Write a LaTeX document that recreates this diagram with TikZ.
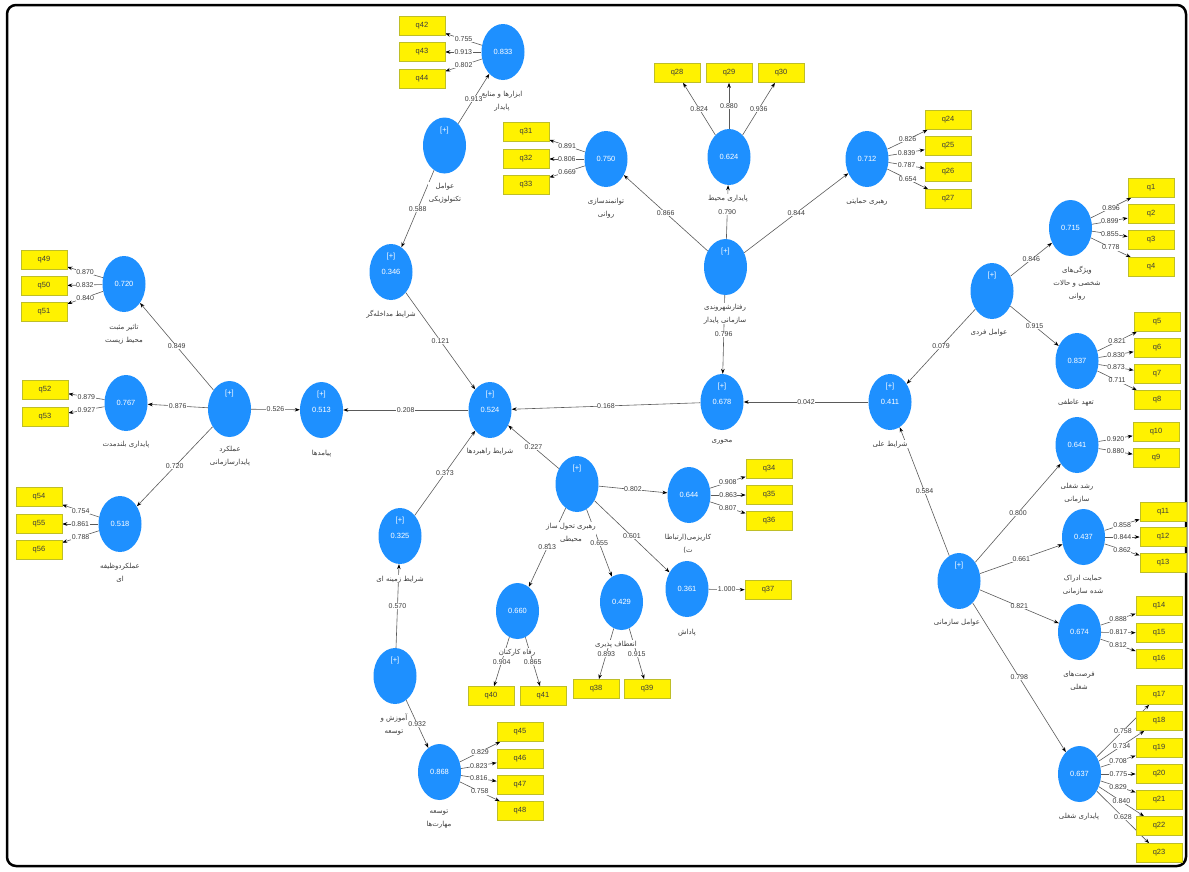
\documentclass[tikz,border=0pt]{standalone}
\usepackage{fontspec}
\setmainfont{Liberation Sans}
\newfontfamily\pfont[Script=Arabic]{DejaVu Sans}
\usetikzlibrary{shapes.geometric,arrows.meta,backgrounds}
\TeXXeTstate=1
\newcommand\RL[1]{\beginR#1\endR}
\definecolor{lvblue}{RGB}{30,144,255}
\definecolor{ybord}{RGB}{190,190,40}
\definecolor{txt}{RGB}{60,60,60}
\definecolor{lgrey}{RGB}{90,90,90}
\tikzset{
 lv/.style={ellipse, fill=lvblue, minimum width=43pt, minimum height=56pt, inner sep=0pt},
 lvt/.style={text=white, font=\fontsize{7.5}{9}\selectfont, inner sep=0pt},
 indbox/.style={rectangle, fill=yellow, draw=ybord, line width=0.6pt, minimum width=46pt, minimum height=19pt, inner sep=0pt, text=txt, font=\fontsize{7.5}{9}\selectfont},
 arr/.style={draw=lgrey, line width=0.6pt, -{Stealth[length=5pt,width=3.6pt,color=black]}},
 coef/.style={fill=white, inner sep=0.5pt, text=txt, font=\fontsize{7}{8}\selectfont},
 plab/.style={fill=white, inner sep=0.5pt, text=txt, align=center, anchor=north, font=\fontsize{7}{13}\pfont},
}
\newcommand\lv[5]{%
 \node[lv] (#1) at (#2,#3) {};
 \node[lvt] at ([yshift=15pt]#1.center) {#4};
 \node[lvt] at (#1.center) {#5};}
\newcommand\qb[3]{\node[indbox] (#1) at (#2,#3) {#1};}
\newcommand\lk[3]{%
 \begin{pgfonlayer}{background}
 \draw[arr] (#1) -- (#2) coordinate[pos=0.5] (lkm);
 \end{pgfonlayer}
 \node[coef] at (lkm) {#3};}
\begin{document}
\begin{tikzpicture}[x=1pt,y=-1pt]
\useasboundingbox (0,0) rectangle (1189,871);
\draw[line width=2.5pt, rounded corners=9pt] (7,5) rectangle (1186,866);
% latent variables
\lv{envA}{124}{284}{}{0.720}
\lv{lt}{126}{403}{}{0.767}
\lv{fn}{120}{524}{}{0.518}
\lv{op}{229.5}{409}{[+]}{}
\lv{out}{321.5}{410}{[+]}{0.513}
\lv{str}{490}{410}{[+]}{0.524}
\lv{int}{391}{272}{[+]}{0.346}
\lv{tech}{444.5}{145.5}{[+]}{}
\lv{tool}{503}{52}{}{0.833}
\lv{emp}{606}{159}{}{0.750}
\lv{es}{729}{157}{}{0.624}
\lv{sup}{867}{159}{}{0.712}
\lv{cit}{725.5}{267}{[+]}{}
\lv{ax}{722}{402}{[+]}{0.678}
\lv{cau}{890}{402}{[+]}{0.411}
\lv{fi}{992}{291}{[+]}{}
\lv{per}{1070.5}{228}{}{0.715}
\lv{aff}{1077}{361}{}{0.837}
\lv{car}{1077}{445}{}{0.641}
\lv{pas}{1083.5}{537}{}{0.437}
\lv{job}{1079.5}{632}{}{0.674}
\lv{js}{1079.5}{774}{}{0.637}
\lv{org}{959}{581}{[+]}{}
\lv{tr}{577}{484}{[+]}{}
\lv{cha}{689}{495}{}{0.644}
\lv{rew}{687}{589}{}{0.361}
\lv{alt}{621.5}{602}{}{0.429}
\lv{wel}{517.5}{611}{}{0.660}
\lv{ctx}{400}{536}{[+]}{0.325}
\lv{trn}{395}{676}{[+]}{}
\lv{sk}{439.5}{772}{}{0.868}
% indicators
\qb{q42}{422}{26}\qb{q43}{422}{52}\qb{q44}{422}{79}
\qb{q31}{526}{132}\qb{q32}{526}{159}\qb{q33}{526}{185}
\qb{q28}{677}{73}\qb{q29}{729}{73}\qb{q30}{781}{73}
\qb{q24}{948}{120}\qb{q25}{948}{146}\qb{q26}{948}{172}\qb{q27}{948}{199}
\qb{q1}{1151}{188}\qb{q2}{1151}{214}\qb{q3}{1151}{240}\qb{q4}{1151}{267}
\qb{q5}{1157}{322}\qb{q6}{1157}{348}\qb{q7}{1157}{374}\qb{q8}{1157}{400}
\qb{q10}{1156}{432}\qb{q9}{1156}{458}
\qb{q11}{1163}{512}\qb{q12}{1163}{537}\qb{q13}{1163}{563}
\qb{q14}{1159}{606}\qb{q15}{1159}{633}\qb{q16}{1159}{659}
\qb{q17}{1159}{695}\qb{q18}{1159}{721}\qb{q19}{1159}{748}\qb{q20}{1159}{774}
\qb{q21}{1159}{800}\qb{q22}{1159}{826}\qb{q23}{1159}{853}
\qb{q49}{44}{260}\qb{q50}{44}{286}\qb{q51}{44}{312}
\qb{q52}{45}{390}\qb{q53}{45}{417}
\qb{q54}{39}{497}\qb{q55}{39}{524}\qb{q56}{39}{550}
\qb{q34}{769}{469}\qb{q35}{769}{495}\qb{q36}{769}{521}
\qb{q37}{768}{590}
\qb{q40}{491}{696}\qb{q41}{543}{696}
\qb{q38}{596}{689}\qb{q39}{647}{689}
\qb{q45}{520}{732}\qb{q46}{520}{759}\qb{q47}{520}{785}\qb{q48}{520}{811}
% latent labels
\node[plab] (LenvA) at (124,323) {\RL{تاثیر مثبت}\\\RL{محیط زیست}};
\node[plab] (Llt) at (126,440) {\RL{پایداری بلندمدت}};
\node[plab] (Lfn) at (120,562) {\RL{عملکردوظیفه}\\\RL{ای}};
\node[plab] (Lop) at (230,445) {\RL{عملکرد}\\\RL{پایدارسازمانی}};
\node[plab] (Lout) at (321.5,449) {\RL{پیامدها}};
\node[plab] (Lstr) at (490,447) {\RL{شرایط راهبردها}};
\node[plab] (Lint) at (391,310) {\RL{شرایط مداخله‌گر}};
\node[plab] (Ltech) at (445,182) {\RL{عوامل}\\\RL{تکنولوژیکی}};
\node[plab] (Ltool) at (502,90) {\RL{ابزارها و منابع}\\\RL{پایدار}};
\node[plab] (Lemp) at (606,197) {\RL{توانمندسازی}\\\RL{روانی}};
\node[plab] (Les) at (728,194) {\RL{پایداری محیط}\\\RL{زیست}};
\node[plab] (Lsup) at (867,197) {\RL{رهبری حمایتی}};
\node[plab] (Lcit) at (725,303) {\RL{رفتارشهروندی}\\\RL{سازمانی پایدار}};
\node[plab] (Lax) at (722,439) {\RL{محوری}};
\node[plab] (Lcau) at (890,440) {\RL{شرایط علی}};
\node[plab] (Lfi) at (989,328) {\RL{عوامل فردی}};
\node[plab] (Lper) at (1077,266) {\RL{ویژگی‌های}\\\RL{شخصی و حالات}\\\RL{روانی}};
\node[plab] (Laff) at (1076,398) {\RL{تعهد عاطفی}};
\node[plab] (Lcar) at (1077,482) {\RL{رشد شغلی}\\\RL{سازمانی}};
\node[plab] (Lpas) at (1083,574) {\RL{حمایت ادراک}\\\RL{شده سازمانی}};
\node[plab] (Ljob) at (1079,670) {\RL{فرصت‌های}\\\RL{شغلی}};
\node[plab] (Ljs) at (1079,812) {\RL{پایداری شغلی}};
\node[plab] (Lorg) at (957,618) {\RL{عوامل سازمانی}};
\node[plab] (Ltr) at (571,522) {\RL{رهبری تحول ساز}\\\RL{محیطی}};
\node[plab] (Lcha) at (688,533) {\RL{کاریزمی(ارتباطا}\\\RL{ت)}};
\node[plab] (Lrew) at (687,628) {\RL{پاداش}};
\node[plab] (Lalt) at (616,640) {\RL{انعطاف پذیری}};
\node[plab] (Lwel) at (517,648) {\RL{رفاه کارکنان}};
\node[plab] (Lctx) at (400,575) {\RL{شرایط زمینه ای}};
\node[plab] (Ltrn) at (394,713) {\RL{آموزش و}\\\RL{توسعه}};
\node[plab] (Lsk) at (439,809) {\RL{توسعه}\\\RL{مهارت‌ها}};
% structural paths
\lk{op}{envA}{0.849}
\lk{op}{lt}{0.876}
\lk{op}{fn}{0.720}
\lk{op}{out}{0.526}
\lk{str}{out}{0.208}
\lk{int}{str}{0.121}
\lk{tech}{int}{0.588}
\lk{tech}{tool}{0.913}
\lk{cit}{emp}{0.866}
\lk{cit}{es}{0.790}
\lk{cit}{sup}{0.844}
\lk{cit}{ax}{0.796}
\lk{ax}{str}{0.168}
\lk{cau}{ax}{0.042}
\lk{fi}{cau}{0.079}
\lk{fi}{per}{0.846}
\lk{fi}{aff}{0.915}
\lk{org}{cau}{0.584}
\lk{org}{car}{0.800}
\lk{org}{pas}{0.661}
\lk{org}{job}{0.821}
\lk{org}{js}{0.798}
\lk{tr}{str}{0.227}
\lk{tr}{cha}{0.802}
\lk{tr}{rew}{0.601}
\lk{tr}{alt}{0.655}
\lk{tr}{wel}{0.813}
\lk{ctx}{str}{0.373}
\lk{trn}{ctx}{0.570}
\lk{trn}{sk}{0.932}
% outer loadings
\lk{tool}{q42}{0.755}\lk{tool}{q43}{0.913}\lk{tool}{q44}{0.802}
\lk{emp}{q31}{0.891}\lk{emp}{q32}{0.806}\lk{emp}{q33}{0.669}
\lk{es}{q28}{0.824}\lk{es}{q29}{0.880}\lk{es}{q30}{0.936}
\lk{sup}{q24}{0.826}\lk{sup}{q25}{0.839}\lk{sup}{q26}{0.787}\lk{sup}{q27}{0.654}
\lk{per}{q1}{0.896}\lk{per}{q2}{0.899}\lk{per}{q3}{0.855}\lk{per}{q4}{0.778}
\lk{aff}{q5}{0.821}\lk{aff}{q6}{0.830}\lk{aff}{q7}{0.873}\lk{aff}{q8}{0.711}
\lk{car}{q10}{0.920}\lk{car}{q9}{0.880}
\lk{pas}{q11}{0.858}\lk{pas}{q12}{0.844}\lk{pas}{q13}{0.862}
\lk{job}{q14}{0.888}\lk{job}{q15}{0.817}\lk{job}{q16}{0.812}
\lk{js}{q17}{0.758}\lk{js}{q18}{0.734}\lk{js}{q19}{0.708}\lk{js}{q20}{0.775}
\lk{js}{q21}{0.829}\lk{js}{q22}{0.840}\lk{js}{q23}{0.628}
\lk{envA}{q49}{0.870}\lk{envA}{q50}{0.832}\lk{envA}{q51}{0.840}
\lk{lt}{q52}{0.879}\lk{lt}{q53}{0.927}
\lk{fn}{q54}{0.754}\lk{fn}{q55}{0.861}\lk{fn}{q56}{0.788}
\lk{cha}{q34}{0.908}\lk{cha}{q35}{0.863}\lk{cha}{q36}{0.807}
\lk{rew}{q37}{1.000}
\lk{wel}{q40}{0.904}\lk{wel}{q41}{0.865}
\lk{alt}{q38}{0.893}\lk{alt}{q39}{0.915}
\lk{sk}{q45}{0.829}\lk{sk}{q46}{0.823}\lk{sk}{q47}{0.816}\lk{sk}{q48}{0.758}
\end{tikzpicture}
\end{document}
